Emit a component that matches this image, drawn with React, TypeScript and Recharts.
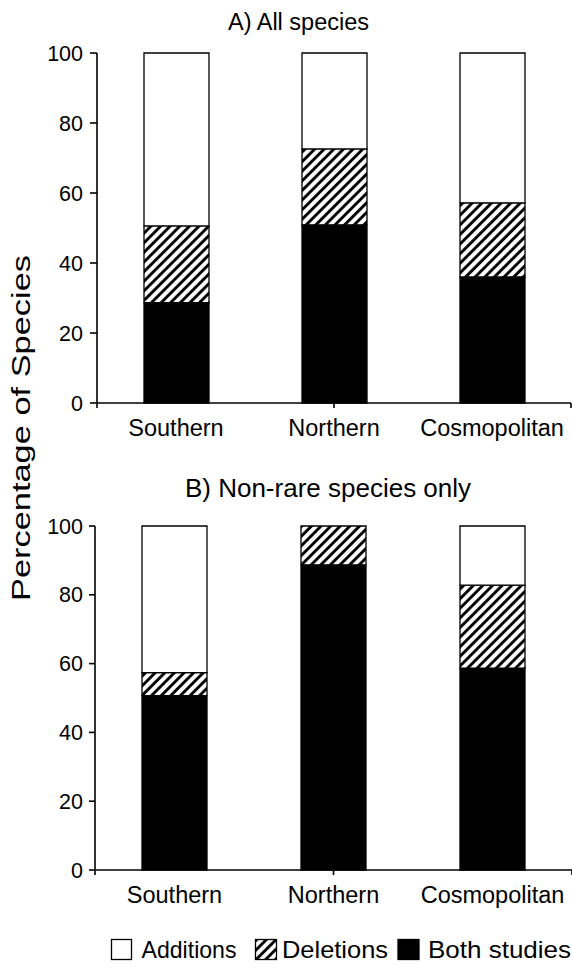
import React from 'react';
import { BarChart, Bar, XAxis, YAxis } from 'recharts';

const categories = ['Southern', 'Northern', 'Cosmopolitan'];

// Panel A: All species (stacked segment sizes, %)
const allBoth = [28.7, 50.9, 36.0];
const allDeletions = [21.9, 21.7, 21.2];
const allAdditions = [49.4, 27.4, 42.8];

// Panel B: Non-rare species only
const nonRareBoth = [50.7, 88.7, 58.7];
const nonRareDeletions = [6.7, 11.3, 24.1];
const nonRareAdditions = [42.6, 0, 17.2];

const yTicks = [0, 20, 40, 60, 80, 100];
const boundaryTicks = [0, 1, 2];
const panelTitles = ['A) All species', 'B) Non-rare species only'];
const yLabel = 'Percentage of Species';
const legendLabels = ['Additions', 'Deletions', 'Both studies'];

const FONT = '"Liberation Sans", Arial, Helvetica, sans-serif';

const buildData = (both: number[], del: number[], add: number[]) =>
  categories.map((name, i) => ({ name, both: both[i], deletions: del[i], additions: add[i] }));

const dataA = buildData(allBoth, allDeletions, allAdditions);
const dataB = buildData(nonRareBoth, nonRareDeletions, nonRareAdditions);

const HatchDef = ({ id }: { id: string }) => (
  <defs>
    <pattern id={id} patternUnits="userSpaceOnUse" width={6.8} height={6.8} patternTransform="rotate(45)">
      <rect x={0} y={0} width={6.8} height={6.8} fill="#fff" />
      <line x1={1.5} y1={0} x2={1.5} y2={6.8} stroke="#000" strokeWidth={2.9} />
    </pattern>
  </defs>
);

type PanelProps = {
  data: any[];
  id: string;
  height: number;
  margin: { top: number; right: number; left: number; bottom: number };
  yWidth: number;
  tickSize: number;
  tickMargin: number;
};

const Panel = ({ data, id, height, margin, yWidth, tickSize, tickMargin }: PanelProps) => (
  <BarChart width={572} height={height} data={data} margin={margin} barSize={65}>
    <HatchDef id={id} />
    <XAxis
      xAxisId="bounds"
      type="number"
      domain={[0, 3]}
      allowDataOverflow
      ticks={boundaryTicks}
      interval={0}
      tick={() => <g />}
      height={1}
      tickSize={5}
      axisLine={{ stroke: '#000', strokeWidth: 1.6 }}
      tickLine={{ stroke: '#000', strokeWidth: 1.6 }}
    />
    <XAxis
      xAxisId="cat"
      dataKey="name"
      type="category"
      interval={0}
      axisLine={false}
      tickLine={false}
      tickSize={0}
      tickMargin={15}
      height={39}
      tick={{ fill: '#000', fontSize: 23.5, fontFamily: FONT }}
    />
    <YAxis
      domain={[0, 100]}
      ticks={yTicks}
      interval={0}
      width={yWidth}
      tickSize={tickSize}
      tickMargin={tickMargin}
      axisLine={{ stroke: '#000', strokeWidth: 1.6 }}
      tickLine={{ stroke: '#000', strokeWidth: 1.6 }}
      tick={{ fill: '#000', fontSize: 21.5, fontFamily: FONT }}
    />
    <Bar xAxisId="cat" dataKey="both" stackId="s" fill="#000" stroke="#000" strokeWidth={1.3} isAnimationActive={false} />
    <Bar xAxisId="cat" dataKey="deletions" stackId="s" fill={`url(#${id})`} stroke="#000" strokeWidth={1.3} isAnimationActive={false} />
    <Bar xAxisId="cat" dataKey="additions" stackId="s" fill="#fff" stroke="#000" strokeWidth={1.3} isAnimationActive={false} />
  </BarChart>
);

const legendLayout = [
  { box: 111.5, text: 141.5, len: 95 },
  { box: 255.5, text: 282, len: 106 },
  { box: 398, text: 428, len: 143 },
];

export default function App() {
  return (
    <div style={{ position: 'absolute', left: 0, top: 0, width: 572, height: 969, background: '#fff', fontFamily: FONT }}>
      <svg style={{ position: 'absolute', left: 0, top: 0 }} width={572} height={50}>
        <text x={298.5} y={29.5} textAnchor="middle" fontSize={23.5} fontFamily={FONT} fill="#000">
          {panelTitles[0]}
        </text>
      </svg>
      <div style={{ position: 'absolute', left: 0, top: 0 }}>
        <Panel data={dataA} id="hatchA" height={460} margin={{ top: 53, right: 1, left: 0, bottom: 17 }} yWidth={97} tickSize={7} tickMargin={7} />
      </div>
      <svg style={{ position: 'absolute', left: 0, top: 470 }} width={572} height={40}>
        <text x={328} y={27.3} textAnchor="middle" fontSize={26} fontFamily={FONT} fill="#000">
          {panelTitles[1]}
        </text>
      </svg>
      <div style={{ position: 'absolute', left: 0, top: 470 }}>
        <Panel data={dataB} id="hatchB" height={460} margin={{ top: 56, right: 0, left: 0, bottom: 20 }} yWidth={95} tickSize={6} tickMargin={6} />
      </div>
      <svg style={{ position: 'absolute', left: 0, top: 240 }} width={45} height={380}>
        <text
          transform="translate(30,188) rotate(-90)"
          textAnchor="middle"
          fontSize={25}
          fontFamily={FONT}
          fill="#000"
          textLength={346}
          lengthAdjust="spacingAndGlyphs"
        >
          {yLabel}
        </text>
      </svg>
      <svg style={{ position: 'absolute', left: 0, top: 925 }} width={572} height={44}>
        <defs>
          <pattern id="hatchL" patternUnits="userSpaceOnUse" width={6.8} height={6.8} patternTransform="rotate(45)">
            <rect x={0} y={0} width={6.8} height={6.8} fill="#fff" />
            <line x1={1.5} y1={0} x2={1.5} y2={6.8} stroke="#000" strokeWidth={2.9} />
          </pattern>
        </defs>
        <rect x={legendLayout[0].box} y={14.5} width={20} height={20} fill="#fff" stroke="#000" strokeWidth={1.3} />
        <rect x={legendLayout[1].box} y={14.5} width={21} height={20} fill="url(#hatchL)" stroke="#000" strokeWidth={1.3} />
        <rect x={legendLayout[2].box} y={14.5} width={21} height={20} fill="#000" stroke="#000" strokeWidth={1.3} />
        {legendLabels.map((label, i) => (
          <text
            key={label}
            x={legendLayout[i].text}
            y={33}
            fontSize={24}
            fontFamily={FONT}
            fill="#000"
            textLength={legendLayout[i].len}
            lengthAdjust="spacingAndGlyphs"
          >
            {label}
          </text>
        ))}
      </svg>
    </div>
  );
}
